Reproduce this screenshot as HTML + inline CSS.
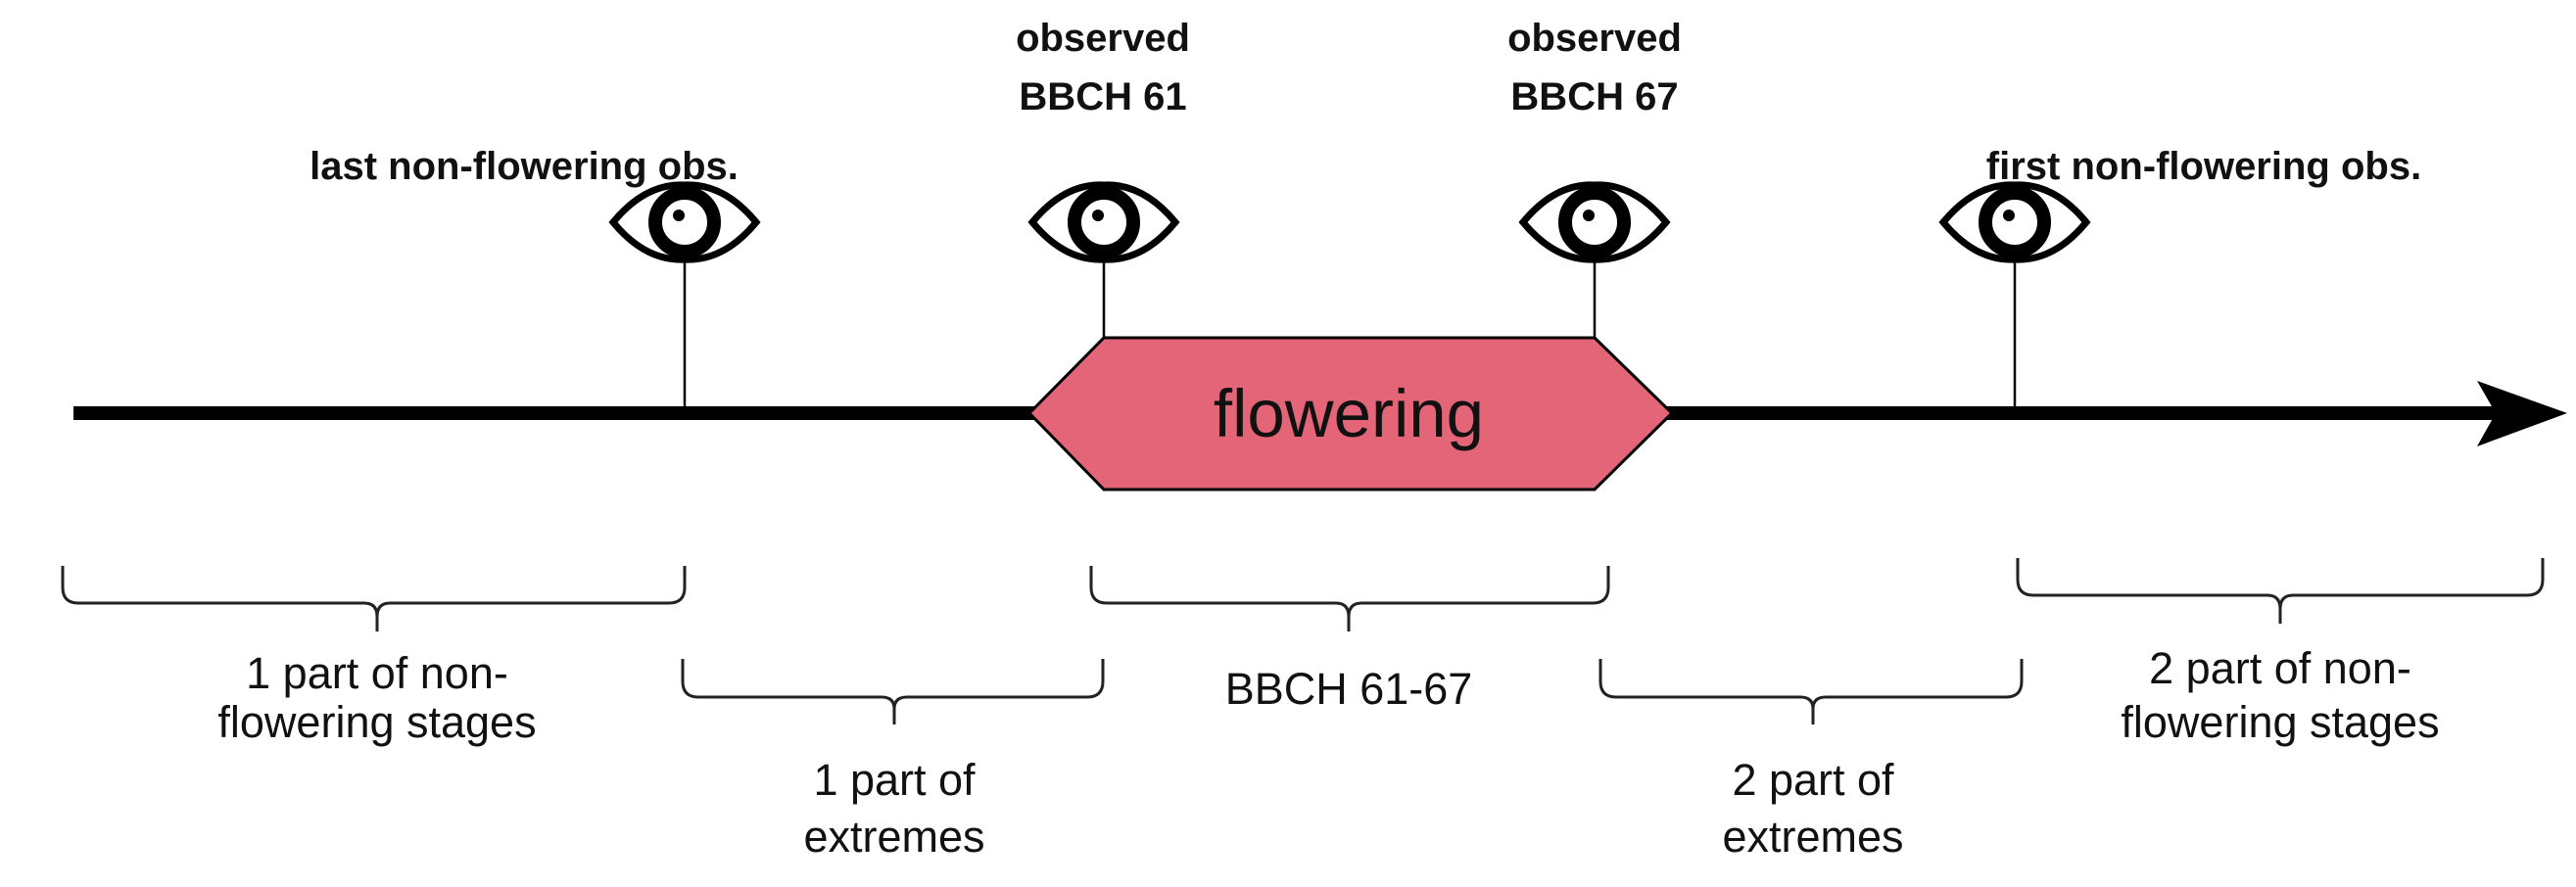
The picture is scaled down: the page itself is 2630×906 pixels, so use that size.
<!DOCTYPE html>
<html><head><meta charset="utf-8"><style>
html,body{margin:0;padding:0;background:#fff;}
svg{display:block;}
text{font-family:"Liberation Sans",Arial,sans-serif;fill:#111;}
</style></head><body>
<svg width="2630" height="906" viewBox="0 0 2630 906" xmlns="http://www.w3.org/2000/svg">
<defs>
<g id="eye">
<path d="M-73,0 Q-40,-40 0,-38 Q40,-40 73,0 Q40,40 0,38 Q-40,40 -73,0 Z" fill="#fff" stroke="#000" stroke-width="7"/>
<circle cx="0" cy="0" r="30" fill="#fff" stroke="#000" stroke-width="14"/>
<circle cx="-6" cy="-7" r="6" fill="#000"/>
</g>
</defs>
<line x1="75" y1="422" x2="2560" y2="422" stroke="#000" stroke-width="14"/>
<polygon points="2529,389 2621,422 2529,456 2548,422" fill="#000"/>
<line x1="699" y1="264" x2="699" y2="422" stroke="#000" stroke-width="2.5"/>
<line x1="1127" y1="264" x2="1127" y2="345" stroke="#000" stroke-width="2.5"/>
<line x1="1628" y1="264" x2="1628" y2="345" stroke="#000" stroke-width="2.5"/>
<line x1="2057" y1="264" x2="2057" y2="422" stroke="#000" stroke-width="2.5"/>
<polygon points="1051,422 1127,345 1628,345 1707,422 1628,500 1127,500" fill="#e46577" stroke="#000" stroke-width="3"/>
<text x="1377" y="446" font-size="69" text-anchor="middle" fill="#222">flowering</text>
<use href="#eye" x="699" y="227"/>
<use href="#eye" x="1127" y="227"/>
<use href="#eye" x="1628" y="227"/>
<use href="#eye" x="2057" y="227"/>
<g font-size="40" font-weight="bold" text-anchor="middle">
<text x="535" y="183">last non-flowering obs.</text>
<text x="1126" y="52">observed</text>
<text x="1126" y="112">BBCH 61</text>
<text x="1628" y="52">observed</text>
<text x="1628" y="112">BBCH 67</text>
<text x="2250" y="183">first non-flowering obs.</text>
</g>
<g fill="none" stroke="#222" stroke-width="3">
<path d="M64,578 L64,600 Q64,616 80,616 L372,616 Q385,616 385,630 L385,645 M385,630 Q385,616 398,616 L683,616 Q699,616 699,600 L699,578"/>
<path d="M697,673 L697,696 Q697,712 713,712 L900,712 Q913,712 913,724 L913,740 M913,724 Q913,712 926,712 L1110,712 Q1126,712 1126,696 L1126,673"/>
<path d="M1114,578 L1114,600 Q1114,616 1130,616 L1364,616 Q1377,616 1377,630 L1377,645 M1377,630 Q1377,616 1390,616 L1626,616 Q1642,616 1642,600 L1642,578"/>
<path d="M1634,673 L1634,696 Q1634,712 1650,712 L1838,712 Q1851,712 1851,724 L1851,740 M1851,724 Q1851,712 1864,712 L2048,712 Q2064,712 2064,696 L2064,673"/>
<path d="M2060,570 L2060,592 Q2060,608 2076,608 L2315,608 Q2328,608 2328,622 L2328,637 M2328,622 Q2328,608 2341,608 L2580,608 Q2596,608 2596,592 L2596,570"/>
</g>
<g font-size="45" text-anchor="middle" fill="#222">
<text x="385" y="703">1 part of non-</text>
<text x="385" y="753">flowering stages</text>
<text x="913" y="812">1 part of</text>
<text x="913" y="870">extremes</text>
<text x="1377" y="719">BBCH 61-67</text>
<text x="1851" y="812">2 part of</text>
<text x="1851" y="870">extremes</text>
<text x="2328" y="698">2 part of non-</text>
<text x="2328" y="753">flowering stages</text>
</g>
</svg>
</body></html>
